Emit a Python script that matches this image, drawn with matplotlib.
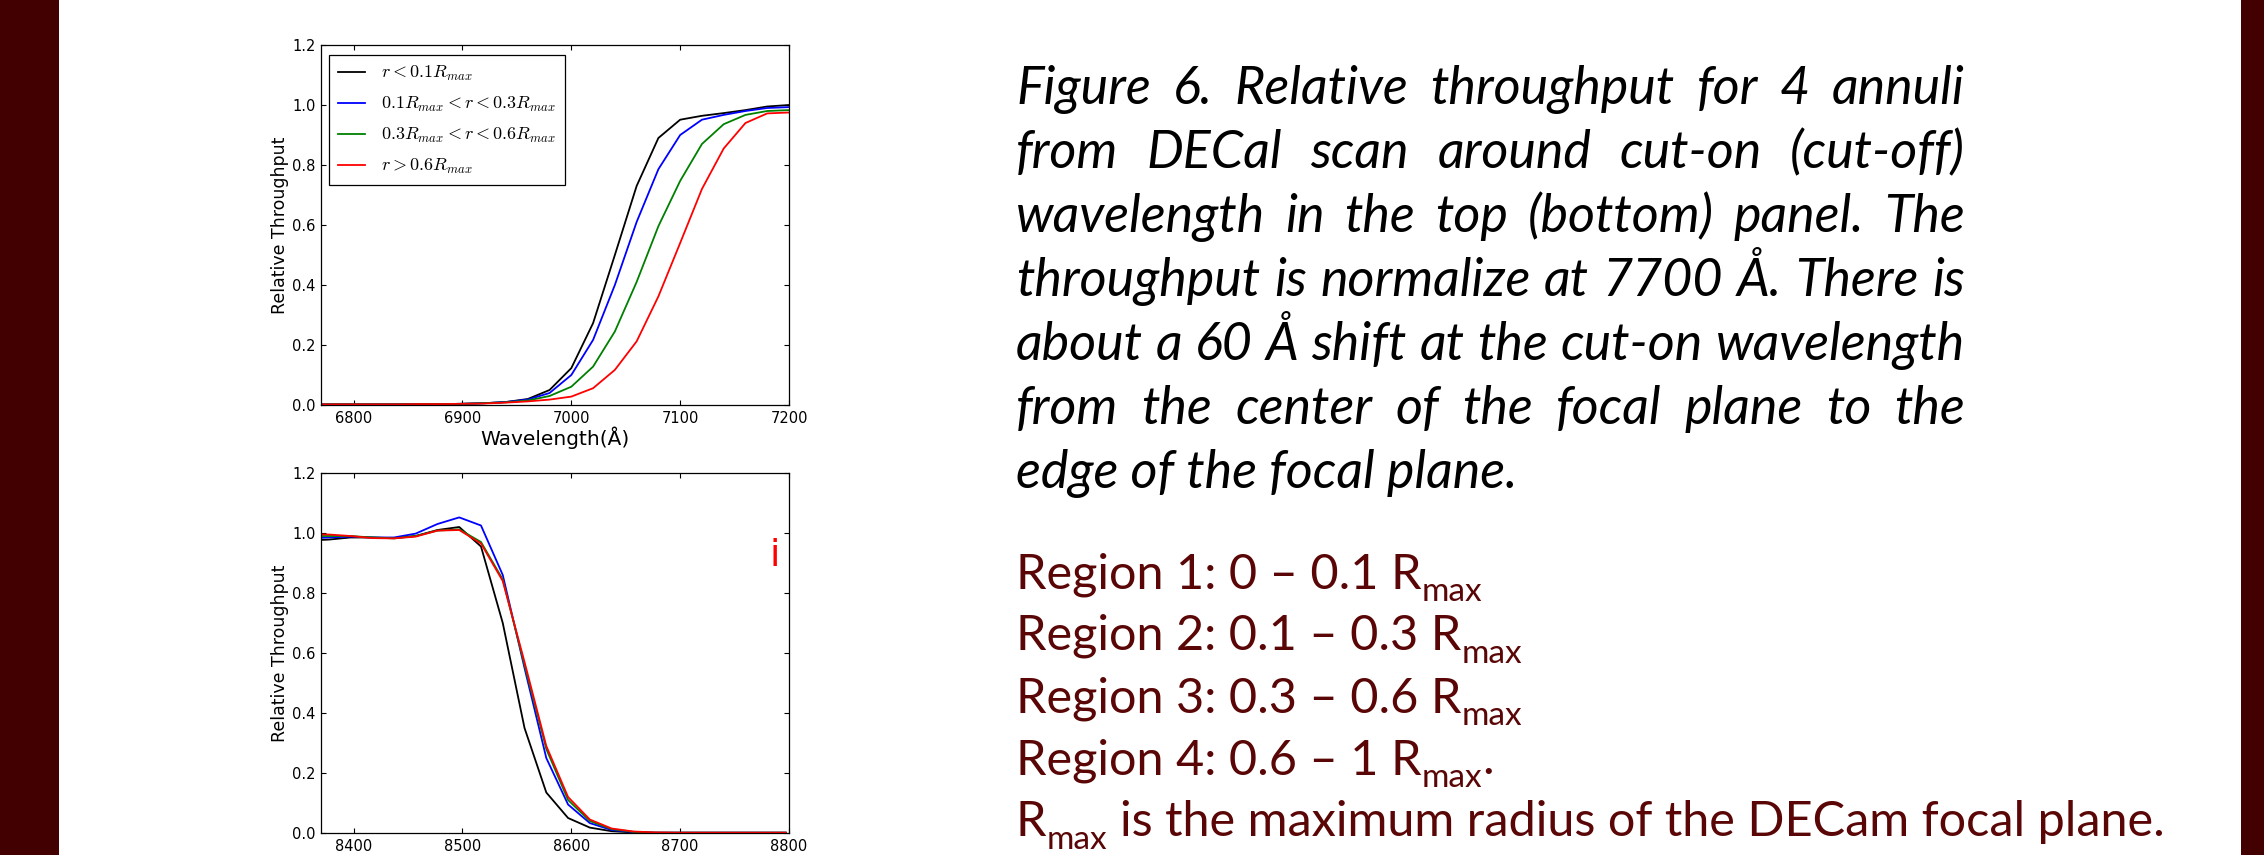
import numpy as np
import matplotlib
matplotlib.use('Agg')
import matplotlib.pyplot as plt
from matplotlib.patches import Rectangle

W, H = 2264, 855

# cut-on scan, top panel (Angstrom, relative throughput)
wl_on = [6760, 6780, 6800, 6820, 6840, 6860, 6880, 6900, 6920, 6940, 6960, 6980,
         7000, 7020, 7040, 7060, 7080, 7100, 7120, 7140, 7160, 7180, 7200]
on_r1 = [0.002, 0.002, 0.002, 0.002, 0.002, 0.003, 0.003, 0.004, 0.006, 0.010, 0.020, 0.050,
         0.123, 0.273, 0.500, 0.730, 0.890, 0.951, 0.964, 0.973, 0.983, 0.995, 1.000]
on_r2 = [0.002, 0.002, 0.002, 0.002, 0.002, 0.003, 0.003, 0.004, 0.006, 0.010, 0.018, 0.040,
         0.100, 0.217, 0.400, 0.610, 0.786, 0.900, 0.951, 0.967, 0.980, 0.990, 0.993]
on_r3 = [0.002, 0.002, 0.002, 0.002, 0.002, 0.003, 0.003, 0.004, 0.006, 0.009, 0.015, 0.030,
         0.061, 0.128, 0.245, 0.410, 0.596, 0.747, 0.870, 0.936, 0.967, 0.980, 0.983]
on_r4 = [0.002, 0.002, 0.002, 0.002, 0.002, 0.003, 0.003, 0.004, 0.005, 0.008, 0.012, 0.018,
         0.028, 0.056, 0.117, 0.212, 0.362, 0.540, 0.720, 0.855, 0.940, 0.972, 0.975]

# cut-off scan, bottom panel
wl_off = [8357, 8377, 8397, 8417, 8437, 8457, 8477, 8497, 8517, 8537, 8557, 8577,
          8597, 8617, 8637, 8657, 8677, 8697, 8717, 8737, 8757, 8777, 8797]
off_r1 = [0.975, 0.978, 0.985, 0.985, 0.983, 0.990, 1.010, 1.020, 0.955, 0.700, 0.350, 0.135,
          0.050, 0.018, 0.006, 0.002, 0.001, 0.001, 0.001, 0.001, 0.001, 0.001, 0.001]
off_r2 = [0.982, 0.985, 0.988, 0.985, 0.985, 0.998, 1.030, 1.052, 1.025, 0.860, 0.550, 0.250,
          0.095, 0.033, 0.010, 0.003, 0.001, 0.001, 0.001, 0.001, 0.001, 0.001, 0.001]
off_r3 = [0.990, 0.990, 0.990, 0.985, 0.982, 0.990, 1.008, 1.012, 0.970, 0.845, 0.560, 0.280,
          0.110, 0.040, 0.013, 0.004, 0.001, 0.001, 0.001, 0.001, 0.001, 0.001, 0.001]
off_r4 = [0.995, 0.995, 0.990, 0.983, 0.982, 0.988, 1.008, 1.010, 0.965, 0.840, 0.570, 0.290,
          0.120, 0.045, 0.015, 0.005, 0.002, 0.001, 0.001, 0.001, 0.001, 0.001, 0.001]

labels = [r'$r<0.1R_{max}$', r'$0.1R_{max}<r<0.3R_{max}$',
          r'$0.3R_{max}<r<0.6R_{max}$', r'$r>0.6R_{max}$']
colors = ['k', 'b', 'g', 'r']

caption = ["Figure 6. Relative throughput for 4 annuli",
           "from DECal scan around cut-on (cut-off)",
           "wavelength in the top (bottom) panel. The",
           "throughput is normalize at 7700 Å. There is",
           "about a 60 Å shift at the cut-on wavelength",
           "from the center of the focal plane to the",
           "edge of the focal plane."]
region_text = ["Region 1: 0 – 0.1 R", "Region 2: 0.1 – 0.3 R",
               "Region 3: 0.3 – 0.6 R", "Region 4: 0.6 – 1 R"]
region_tail = ["", "", "", "."]
rmax_note = "is the maximum radius of the DECam focal plane."

plt.rcParams['mathtext.fontset'] = 'cm'
plt.rcParams['font.family'] = ['DejaVu Sans']

fig = plt.figure(figsize=(W / 100, H / 100), dpi=100, facecolor='white')

# dark red side bars
fig.add_artist(Rectangle((0, 0), 59 / W, 1, transform=fig.transFigure,
                         facecolor='#420000', edgecolor='none'))
fig.add_artist(Rectangle((2241 / W, 0), 23 / W, 1, transform=fig.transFigure,
                         facecolor='#420000', edgecolor='none'))

AX_L, AX_R = 321, 789


def make_axes(top_px, bottom_px):
    ax = fig.add_axes([AX_L / W, 1 - bottom_px / H, (AX_R - AX_L) / W, (bottom_px - top_px) / H])
    ax.set_ylim(0, 1.2)
    ax.set_yticks(np.arange(0, 1.21, 0.2))
    ax.yaxis.set_major_formatter(matplotlib.ticker.FormatStrFormatter('%.1f'))
    ax.tick_params(direction='in', top=True, right=True, length=3.5, width=0.8,
                   labelsize=10.5, pad=4)
    for s in ax.spines.values():
        s.set_linewidth(0.9)
    ax.set_ylabel('Relative Throughput', fontsize=12.5, labelpad=2)
    return ax


ax1 = make_axes(45, 405)
for y, c, lab in zip([on_r1, on_r2, on_r3, on_r4], colors, labels):
    ax1.plot(wl_on, y, color=c, lw=1.3, label=lab)
ax1.set_xlim(6770, 7200)
ax1.set_xticks([6800, 6900, 7000, 7100, 7200])
ax1.set_xlabel('Wavelength(Å)', fontsize=14.5, labelpad=1)
leg = ax1.legend(loc='upper left', bbox_to_anchor=(0.017, 0.972), borderaxespad=0,
                 fontsize=13, handlelength=1.5, handletextpad=0.9, labelspacing=0.66,
                 borderpad=0.5, fancybox=False, framealpha=1)
leg.get_frame().set_edgecolor('black')
leg.get_frame().set_linewidth(0.9)

ax2 = make_axes(473, 833)
for y, c in zip([off_r1, off_r2, off_r3, off_r4], colors):
    ax2.plot(wl_off, y, color=c, lw=1.3)
ax2.set_xlim(8370, 8800)
ax2.set_xticks([8400, 8500, 8600, 8700, 8800])
ax2.text(8787, 0.89, 'i', color='red', fontsize=27, ha='center', va='baseline')

# caption block, laid out word by word in pixel coordinates
fig.canvas.draw()
rend = fig.canvas.get_renderer()


def put(x, y, s, **kw):
    return fig.text(x / W, 1 - y / H, s, ha='left', va='baseline', **kw)


def width_px(s, **kw):
    t = put(0, 0, s, **kw)
    w = t.get_window_extent(rend).width
    t.remove()
    return w


x_left, x_right = 1016, 1965
lato = ['Lato', 'DejaVu Sans']

# widest justified line sets the caption size
base = 30
natural = max(width_px(l, family=lato, style='italic', fontsize=base) for l in caption[:-1])
cap_kw = dict(family=lato, style='italic', fontsize=base * (x_right - x_left - 6) / natural,
              color='black')
for i, line in enumerate(caption):
    y = 104 + i * 64
    if i == len(caption) - 1:
        put(x_left, y, line, **cap_kw)
        continue
    words = line.split()
    ws = [width_px(w, **cap_kw) for w in words]
    gap = (x_right - x_left - sum(ws)) / (len(words) - 1)
    x = x_left
    for w, wd in zip(words, ws):
        put(x, y, w, **cap_kw)
        x += wd + gap

reg_kw = dict(family=lato, fontsize=35, color='#5a0606')
sub_kw = dict(family=lato, fontsize=24, color='#5a0606')
sub_drop = 13
for i, (line, tail) in enumerate(zip(region_text, region_tail)):
    y = 588 + i * 62
    put(x_left, y, line, **reg_kw)
    x = x_left + width_px(line, **reg_kw)
    put(x, y + sub_drop, 'max', **sub_kw)
    x += width_px('max', **sub_kw)
    if tail:
        put(x, y, tail, **reg_kw)

y = 588 + 4 * 62
put(x_left, y, 'R', **reg_kw)
x = x_left + width_px('R', **reg_kw)
put(x, y + sub_drop, 'max', **sub_kw)
x += width_px('max', **sub_kw) + width_px('a a', **reg_kw) - width_px('aa', **reg_kw)
put(x, y, rmax_note, **reg_kw)

fig.savefig('out.png', dpi=100, facecolor='white')
